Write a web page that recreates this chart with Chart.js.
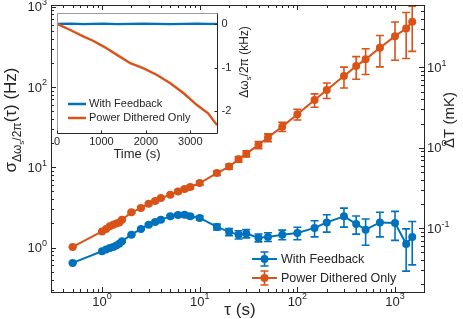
<!DOCTYPE html>
<html>
<head>
<meta charset="utf-8">
<script src="https://cdn.jsdelivr.net/npm/chart.js@4/dist/chart.umd.min.js"></script>
<style>
  html, body { margin: 0; padding: 0; background: #fff; }
  #wrap { position: relative; width: 463px; height: 319px; }
  #main { position: absolute; left: 0; top: 0; }
  #inset { position: absolute; left: 50px; top: 0; }
</style>
</head>
<body>
<div id="wrap">
  <canvas id="main" width="463" height="319"></canvas>
  <canvas id="inset" width="215" height="165"></canvas>
</div>
<script>
// ---- data ----
const tau = [0.5, 1, 1.1, 1.2, 1.3, 1.4, 1.5, 1.6, 2, 2.5, 3, 3.5, 4, 5, 6, 7, 8, 10, 15, 20, 25, 30, 40, 50, 70, 100, 150, 200, 300, 400, 500, 700, 1000, 1300, 1500];
const feedbackDev = [0.645, 0.90, 0.944, 0.99, 1.02, 1.06, 1.12, 1.2, 1.45, 1.71, 1.93, 2.08, 2.23, 2.45, 2.55, 2.57, 2.45, 2.34, 1.81, 1.57, 1.45, 1.5, 1.33, 1.36, 1.45, 1.52, 1.76, 2.06, 2.45, 1.97, 1.67, 2.06, 2.03, 1.11, 1.36];
const feedbackErr = [0.01, 0.02, 0.02, 0.02, 0.02, 0.02, 0.02, 0.02, 0.03, 0.04, 0.05, 0.06, 0.07, 0.09, 0.1, 0.11, 0.12, 0.13, 0.15, 0.16, 0.17, 0.18, 0.15, 0.17, 0.2, 0.27, 0.4, 0.5, 0.65, 0.5, 0.6, 0.7, 0.8, 0.6, 0.75];
const ditheredDev = [1.02, 1.59, 1.71, 1.84, 1.93, 1.99, 2.06, 2.23, 2.75, 3.11, 3.52, 3.8, 4.14, 4.55, 5.0, 5.36, 5.68, 6.37, 8.47, 10.2, 12.6, 14.8, 19.0, 23.5, 32.1, 45.8, 69, 92, 137, 182, 221, 308, 430, 536, 648];
const ditheredErr = [0.01, 0.03, 0.03, 0.03, 0.04, 0.04, 0.04, 0.05, 0.06, 0.08, 0.1, 0.11, 0.13, 0.16, 0.2, 0.23, 0.26, 0.32, 0.53, 0.73, 1.0, 1.3, 1.9, 2.6, 4.2, 7, 13, 20, 40, 57, 78, 130, 215, 310, 370];

const xPowers = [0, 1, 2, 3];
const yPowers = [0, 1, 2, 3];
const y2Powers = [-1, 0, 1];

// inset: drift of the frequency offset
const insetTime = [0, 300, 600, 800, 1050, 1350, 1650, 1950, 2250, 2550, 2850, 3150, 3400, 3600];
const insetFeedback = [0, 0.005, -0.005, 0, 0.005, -0.005, 0, 0.005, 0, -0.005, 0, 0.005, 0, 0];
const insetDithered = [0, -0.14, -0.29, -0.38, -0.52, -0.71, -0.90, -1.02, -1.17, -1.36, -1.59, -1.86, -2.05, -2.32];
const insetXTicks = [0, 1000, 2000, 3000];
const insetYTicks = [0, -1, -2];

const labels = ['With Feedback', 'Power Dithered Only'];
const BLUE = '#0072BD', ORANGE = '#D95319';
const FONT = '"Liberation Sans", Arial, Helvetica, sans-serif';
const INK = '#262626';

// "10" with a raised exponent, anchored by align
function drawPow(ctx, x, y, exp, align) {
  const e = exp < 0 ? '-' + Math.abs(exp) : String(exp);
  ctx.font = '13px ' + FONT;
  const wb = ctx.measureText('10').width;
  ctx.font = '9px ' + FONT;
  const we = ctx.measureText(e).width;
  const w = wb + we;
  let x0 = x;
  if (align === 'right') x0 = x - w;
  if (align === 'center') x0 = x - w / 2;
  ctx.fillStyle = INK;
  ctx.textAlign = 'left';
  ctx.textBaseline = 'middle';
  ctx.font = '13px ' + FONT;
  ctx.fillText('10', x0, y);
  ctx.font = '9px ' + FONT;
  ctx.fillText(e, x0 + wb, y - 5);
}

function logTicks(min, max) {
  const out = [];
  for (let p = Math.floor(Math.log10(min)); p <= Math.ceil(Math.log10(max)); p++) {
    for (let k = 1; k <= 9; k++) {
      const v = k * Math.pow(10, p);
      if (v >= min && v <= max) out.push({ v, major: k === 1 });
    }
  }
  return out;
}

// rotated text built from pieces: [text, size, baselineShift]
function drawRotated(ctx, cx, cy, parts) {
  ctx.save();
  let w = 0;
  parts.forEach(p => { ctx.font = p[1] + 'px ' + FONT; w += ctx.measureText(p[0]).width; });
  ctx.translate(cx, cy);
  ctx.rotate(-Math.PI / 2);
  ctx.fillStyle = INK;
  ctx.textAlign = 'left';
  ctx.textBaseline = 'alphabetic';
  let x = -w / 2;
  parts.forEach(p => {
    ctx.font = p[1] + 'px ' + FONT;
    ctx.fillText(p[0], x, p[2]);
    x += ctx.measureText(p[0]).width;
  });
  ctx.restore();
}

const mainDecor = {
  id: 'mainDecor',
  beforeDatasetsDraw(chart) {
    const ctx = chart.ctx, xs = chart.scales.x, ys = chart.scales.y;
    const sets = [[feedbackDev, feedbackErr, BLUE], [ditheredDev, ditheredErr, ORANGE]];
    ctx.save();
    ctx.lineWidth = 1.6;
    sets.forEach(([vals, errs, col]) => {
      ctx.strokeStyle = col;
      tau.forEach((t, i) => {
        const px = xs.getPixelForValue(t);
        const top = ys.getPixelForValue(vals[i] + errs[i]);
        const bot = ys.getPixelForValue(Math.max(vals[i] - errs[i], 1e-3));
        ctx.beginPath();
        ctx.moveTo(px, top); ctx.lineTo(px, bot);
        ctx.moveTo(px - 4, top); ctx.lineTo(px + 4, top);
        ctx.moveTo(px - 4, bot); ctx.lineTo(px + 4, bot);
        ctx.stroke();
      });
    });
    ctx.restore();
  },
  afterDraw(chart) {
    const ctx = chart.ctx, a = chart.chartArea;
    const xs = chart.scales.x, ys = chart.scales.y, y2 = chart.scales.y2;
    ctx.save();
    // frame
    ctx.strokeStyle = INK;
    ctx.lineWidth = 1;
    ctx.strokeRect(Math.round(a.left) + 0.5, Math.round(a.top) + 0.5, Math.round(a.right - a.left), Math.round(a.bottom - a.top));
    // inward ticks
    ctx.beginPath();
    logTicks(xs.min, xs.max).forEach(t => {
      const px = Math.round(xs.getPixelForValue(t.v)) + 0.5, len = t.major ? 5 : 3;
      ctx.moveTo(px, a.bottom); ctx.lineTo(px, a.bottom - len);
      ctx.moveTo(px, a.top); ctx.lineTo(px, a.top + len);
    });
    logTicks(ys.min, ys.max).forEach(t => {
      const py = Math.round(ys.getPixelForValue(t.v)) + 0.5, len = t.major ? 5 : 3;
      ctx.moveTo(a.left, py); ctx.lineTo(a.left + len, py);
    });
    logTicks(y2.min, y2.max).forEach(t => {
      const py = Math.round(y2.getPixelForValue(t.v)) + 0.5, len = t.major ? 5 : 3;
      ctx.moveTo(a.right, py); ctx.lineTo(a.right - len, py);
    });
    ctx.stroke();
    // tick labels
    xPowers.forEach(p => drawPow(ctx, xs.getPixelForValue(Math.pow(10, p)), a.bottom + 10, p, 'center'));
    yPowers.forEach(p => drawPow(ctx, a.left - 4, ys.getPixelForValue(Math.pow(10, p)) + 1, p, 'right'));
    y2Powers.forEach(p => drawPow(ctx, a.right + 3, y2.getPixelForValue(Math.pow(10, p)) + 1, p, 'left'));
    // axis titles
    ctx.fillStyle = INK;
    ctx.font = '17px ' + FONT;
    ctx.textAlign = 'center';
    ctx.textBaseline = 'middle';
    ctx.fillText('τ (s)', 240, 310);
    drawRotated(ctx, 16, 120, [['σ', 17, 0], ['Δω', 12, 5], ['s', 8, 8], ['/2π', 12, 5], ['(τ) (Hz)', 17, 0]]);
    drawRotated(ctx, 454, 120, [['ΔT (mK)', 15, 0]]);
    // legend
    [[BLUE, 259], [ORANGE, 278]].forEach(([col, y], i) => {
      ctx.strokeStyle = col; ctx.fillStyle = col; ctx.lineWidth = 2;
      ctx.beginPath(); ctx.moveTo(252, y); ctx.lineTo(277, y); ctx.stroke();
      ctx.lineWidth = 1.6;
      ctx.beginPath();
      ctx.moveTo(264.5, y - 7); ctx.lineTo(264.5, y + 7);
      ctx.moveTo(260.5, y - 7); ctx.lineTo(268.5, y - 7);
      ctx.moveTo(260.5, y + 7); ctx.lineTo(268.5, y + 7);
      ctx.stroke();
      ctx.beginPath(); ctx.arc(264.5, y, 4, 0, Math.PI * 2); ctx.fill();
      ctx.fillStyle = INK; ctx.font = '12.5px ' + FONT;
      ctx.textAlign = 'left'; ctx.textBaseline = 'middle';
      ctx.fillText(labels[i], 281, y + 1);
    });
    ctx.restore();
  }
};

const ptStyle = col => ({
  borderColor: col, backgroundColor: col, borderWidth: 2,
  pointRadius: 4, pointBorderWidth: 0, pointBackgroundColor: col, tension: 0,
});

new Chart(document.getElementById('main'), {
  type: 'line',
  data: {
    datasets: [
      { label: labels[0], data: tau.map((t, i) => ({ x: t, y: feedbackDev[i] })), ...ptStyle(BLUE) },
      { label: labels[1], data: tau.map((t, i) => ({ x: t, y: ditheredDev[i] })), ...ptStyle(ORANGE) },
    ]
  },
  options: {
    responsive: false, animation: false, devicePixelRatio: 1,
    layout: { padding: { left: 51, right: 39, top: 5, bottom: 27 } },
    plugins: { legend: { display: false }, tooltip: { enabled: false } },
    scales: {
      x: { type: 'logarithmic', min: 0.316, max: 1980, display: false },
      y: { type: 'logarithmic', min: 0.28, max: 1050, display: false },
      y2: { type: 'logarithmic', position: 'right', min: 0.016, max: 60, display: false },
    }
  },
  plugins: [mainDecor]
});

// ---- inset ----
const insetDecor = {
  id: 'insetDecor',
  beforeDatasetsDraw(chart) {
    const ctx = chart.ctx, a = chart.chartArea;
    ctx.save();
    ctx.fillStyle = '#fff';
    ctx.fillRect(a.left, a.top, a.right - a.left, a.bottom - a.top);
    ctx.restore();
  },
  afterDraw(chart) {
    const ctx = chart.ctx, a = chart.chartArea, xs = chart.scales.x, ys = chart.scales.y;
    ctx.save();
    const L = Math.round(a.left) + 0.5, R = Math.round(a.right) + 0.5, T = Math.round(a.top) + 0.5, B = Math.round(a.bottom) + 0.5;
    ctx.lineWidth = 1;
    ctx.strokeStyle = '#9a9a9a';
    ctx.beginPath(); ctx.moveTo(L, B); ctx.lineTo(L, T); ctx.lineTo(R, T); ctx.stroke();
    ctx.strokeStyle = INK;
    ctx.beginPath(); ctx.moveTo(L, B); ctx.lineTo(R, B); ctx.lineTo(R, T); ctx.stroke();
    ctx.beginPath();
    insetXTicks.forEach(v => {
      const px = Math.round(xs.getPixelForValue(v)) + 0.5;
      ctx.moveTo(px, B); ctx.lineTo(px, B - 3);
    });
    insetYTicks.forEach(v => {
      const py = Math.round(ys.getPixelForValue(v)) + 0.5;
      ctx.moveTo(R, py); ctx.lineTo(R - 3, py);
    });
    ctx.stroke();
    ctx.fillStyle = INK;
    ctx.font = '11px ' + FONT;
    ctx.textAlign = 'center'; ctx.textBaseline = 'middle';
    insetXTicks.forEach(v => ctx.fillText(String(v), xs.getPixelForValue(v), B + 8));
    ctx.textAlign = 'left';
    insetYTicks.forEach(v => ctx.fillText(String(v), R + 4, ys.getPixelForValue(v)));
    ctx.font = '13px ' + FONT;
    ctx.textAlign = 'center';
    ctx.fillText('Time (s)', (a.left + a.right) / 2, B + 21);
    drawRotated(ctx, R + 30, 62, [['Δω', 12, 0], ['s', 8, 3], ['/2π (kHz)', 12, 0]]);
    // legend
    [[BLUE, 104], [ORANGE, 118]].forEach(([col, y], i) => {
      ctx.strokeStyle = col; ctx.lineWidth = 2.5;
      ctx.beginPath(); ctx.moveTo(18, y); ctx.lineTo(36, y); ctx.stroke();
      ctx.fillStyle = INK; ctx.font = '11px ' + FONT;
      ctx.textAlign = 'left'; ctx.textBaseline = 'middle';
      ctx.fillText(labels[i], 39, y);
    });
    ctx.restore();
  }
};

new Chart(document.getElementById('inset'), {
  type: 'line',
  data: {
    datasets: [
      { label: labels[1], data: insetTime.map((t, i) => ({ x: t, y: insetDithered[i] })),
        borderColor: ORANGE, borderWidth: 2.4, pointRadius: 0, tension: 0 },
      { label: labels[0], data: insetTime.map((t, i) => ({ x: t, y: insetFeedback[i] })),
        borderColor: BLUE, borderWidth: 2.2, pointRadius: 0, tension: 0 },
    ]
  },
  options: {
    responsive: false, animation: false, devicePixelRatio: 1,
    layout: { padding: { left: 7, right: 48, top: 13, bottom: 32 } },
    plugins: { legend: { display: false }, tooltip: { enabled: false } },
    scales: {
      x: { type: 'linear', min: 0, max: 3600, display: false },
      y: { type: 'linear', min: -2.5, max: 0.25, display: false },
    }
  },
  plugins: [insetDecor]
});
</script>
</body>
</html>
